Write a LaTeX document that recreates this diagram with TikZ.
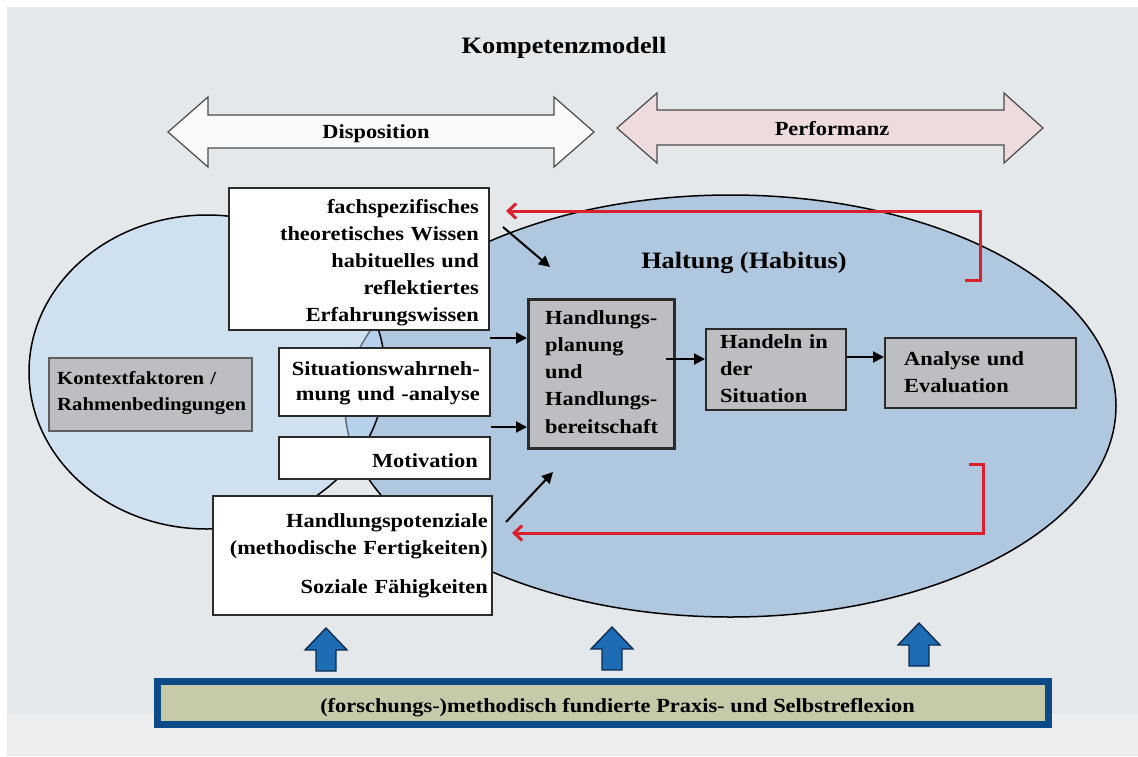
\documentclass[tikz,border=0pt]{standalone}
\usepackage{fontspec}
\setmainfont{Liberation Serif}[FakeStretch=1.12]
\usetikzlibrary{arrows.meta}

\definecolor{bggray}{HTML}{E4E8EB}
\definecolor{bglight}{HTML}{EDEDED}
\definecolor{bigblue}{HTML}{AFC8E0}
\definecolor{leftblue}{HTML}{BCDAF7}
\definecolor{dispfill}{HTML}{F8FAFC}
\definecolor{perffill}{HTML}{EEDBDD}
\definecolor{boxgray}{HTML}{BCBEC2}
\definecolor{darkline}{HTML}{2A2A2A}
\definecolor{redline}{HTML}{DC1F2C}
\definecolor{arrowblue}{HTML}{1E6CB4}
\definecolor{arrowedge}{HTML}{0D2C50}
\definecolor{navy}{HTML}{0C4A88}
\definecolor{khaki}{HTML}{C6CAA9}

\tikzset{
  wbox/.style={rectangle, draw=darkline, line width=1.4pt, fill=white, inner sep=0pt},
  gbox/.style={rectangle, draw=darkline, line width=2pt, fill=boxgray, inner sep=0pt},
  bodytxt/.style={inner sep=0pt, text width=320pt, font=\bfseries\fontsize{20}{27}\selectfont},
  righttxt/.style={bodytxt, anchor=base east, align=right},
  lefttxt/.style={bodytxt, anchor=base west, align=left},
  bigtxt/.style={inner sep=0pt, anchor=base, font=\bfseries\fontsize{23.5}{28}\selectfont},
  labeltxt/.style={inner sep=0pt, anchor=base, font=\bfseries\fontsize{20}{24}\selectfont},
  dblarrow/.style={draw=darkline!85, line width=1.2pt, line join=miter},
  barrow/.style={draw=black, line width=2pt, -{Triangle[length=11pt,width=11pt]}},
  rarrow/.style={draw=redline, line width=3pt, -{Straight Barb[length=8pt,width=15pt]}},
  upblock/.style={fill=arrowblue, draw=arrowedge, line width=1.4pt, line join=miter},
}

\begin{document}
\begin{tikzpicture}[x=1pt, y=-1pt]
  % canvas and background panels
  \useasboundingbox (0,0) rectangle (1138,756);
  \fill[white] (0,0) rectangle (1138,756);
  \fill[bggray] (7,7) rectangle (1138,714);
  \fill[bglight] (7,714) rectangle (1138,756);

  % title
  \node[bigtxt] (title) at (564,53.5) {Kompetenzmodell};

  % disposition / performance double arrows
  \draw[dblarrow, fill=dispfill] (168,132) -- (208,97) -- (208,115) -- (554,115) -- (554,97)
    -- (594,132) -- (554,167) -- (554,148) -- (208,148) -- (208,167) -- cycle;
  \node[labeltxt] (disp) at (376,138.5) {Disposition};
  \draw[dblarrow, fill=perffill] (617,128) -- (657,93) -- (657,110) -- (1004,110) -- (1004,93)
    -- (1043,128) -- (1004,163) -- (1004,145) -- (657,145) -- (657,163) -- cycle;
  \node[labeltxt] (perf) at (832,135) {Performanz};

  % the two ellipses: habitus and disposition area
  \draw[line width=1.5pt, fill=bigblue] (730.5,406) ellipse [x radius=385.5, y radius=211];
  \draw[line width=1.5pt, fill=leftblue, fill opacity=0.5] (207,372) ellipse [x radius=178, y radius=157];

  \node[bigtxt] (habitus) at (744,268) {Haltung (Habitus)};

  % disposition boxes
  \node[wbox, minimum width=260pt, minimum height=142pt] (b1) at (359,259) {};
  \node[righttxt] (b1t) at (479,213) {fachspezifisches\\theoretisches Wissen\\habituelles und\\reflektiertes\\Erfahrungswissen};

  \node[wbox, minimum width=211pt, minimum height=68pt] (b2) at (384.5,382) {};
  \node[righttxt, font=\bfseries\fontsize{20}{25}\selectfont] (b2t) at (480,375) {Situationswahrneh-\\mung und -analyse};

  \node[wbox, minimum width=211pt, minimum height=42pt] (b3) at (384.5,458) {};
  \node[righttxt] (b3t) at (478,467) {Motivation};

  \node[wbox, minimum width=279pt, minimum height=119pt] (b4) at (352.5,555.5) {};
  \node[righttxt] (b4t) at (488,527) {Handlungspotenziale\\(methodische Fertigkeiten)\\[12pt]Soziale Fähigkeiten\hspace*{8pt}};

  \node[gbox, draw=darkline!75, line width=1.5pt, minimum width=203pt, minimum height=73pt] (kf) at (150.5,394.5) {};
  \node[lefttxt, font=\bfseries\fontsize{18.5}{26}\selectfont] (kft) at (57,384) {Kontextfaktoren /\\Rahmenbedingungen};

  % action chain
  \node[gbox, line width=3pt, minimum width=145.5pt, minimum height=149pt] (hp) at (601.25,373.5) {};
  \node[lefttxt, font=\bfseries\fontsize{20}{27.3}\selectfont] (hpt) at (545,324) {Handlungs-\\planung\\und\\Handlungs-\\bereitschaft};

  \node[gbox, minimum width=140pt, minimum height=81pt] (hd) at (776,369.5) {};
  \node[lefttxt, font=\bfseries\fontsize{20}{27.2}\selectfont] (hdt) at (720,348.3) {Handeln in\\der\\Situation};

  \node[gbox, minimum width=191pt, minimum height=70pt] (an) at (980.5,373) {};
  \node[lefttxt] (ant) at (904,365) {Analyse und\\Evaluation};

  % black connectors
  \coordinate (k1s) at (503,227);
  \coordinate (k1e) at (550,267);
  \coordinate (k2s) at (506,522);
  \coordinate (k2e) at (553,472);
  \draw[barrow] (k1s) -- (k1e);
  \draw[barrow] (k2s) -- (k2e);
  \draw[barrow] (b1.east |- 0,338) -- (hp.west |- 0,338);
  \draw[barrow] (b2.east |- 0,427) -- (hp.west |- 0,427);
  \draw[barrow] (666,359) -- (hd.west |- 0,359);
  \draw[barrow] (hd.east |- 0,357) -- (an.west |- 0,357);

  % red feedback loops
  \coordinate (r1s) at (965,280);
  \coordinate (r1c) at (980,211);
  \coordinate (r1e) at (506,211);
  \draw[rarrow] (r1s) -| (r1c) -- (r1e);
  \coordinate (r2s) at (969,464);
  \coordinate (r2c) at (983,533);
  \coordinate (r2e) at (512,533);
  \draw[rarrow] (r2s) -| (r2c) -- (r2e);

  % upward block arrows
  \foreach \cx/\ty in {326/628, 612/627, 919/623} {
    \draw[upblock] (\cx,\ty) -- (\cx+21,\ty+22) -- (\cx+10,\ty+22) -- (\cx+10,\ty+43)
      -- (\cx-10,\ty+43) -- (\cx-10,\ty+22) -- (\cx-21,\ty+22) -- cycle;
  }

  % reflection bar
  \node[rectangle, draw=navy, line width=7pt, fill=khaki, minimum width=891pt, minimum height=43pt, inner sep=0pt] (refl) at (603,703) {};
  \node[labeltxt] (reflt) at (617.5,712) {(forschungs-)methodisch fundierte Praxis- und Selbstreflexion};
\end{tikzpicture}
\end{document}
